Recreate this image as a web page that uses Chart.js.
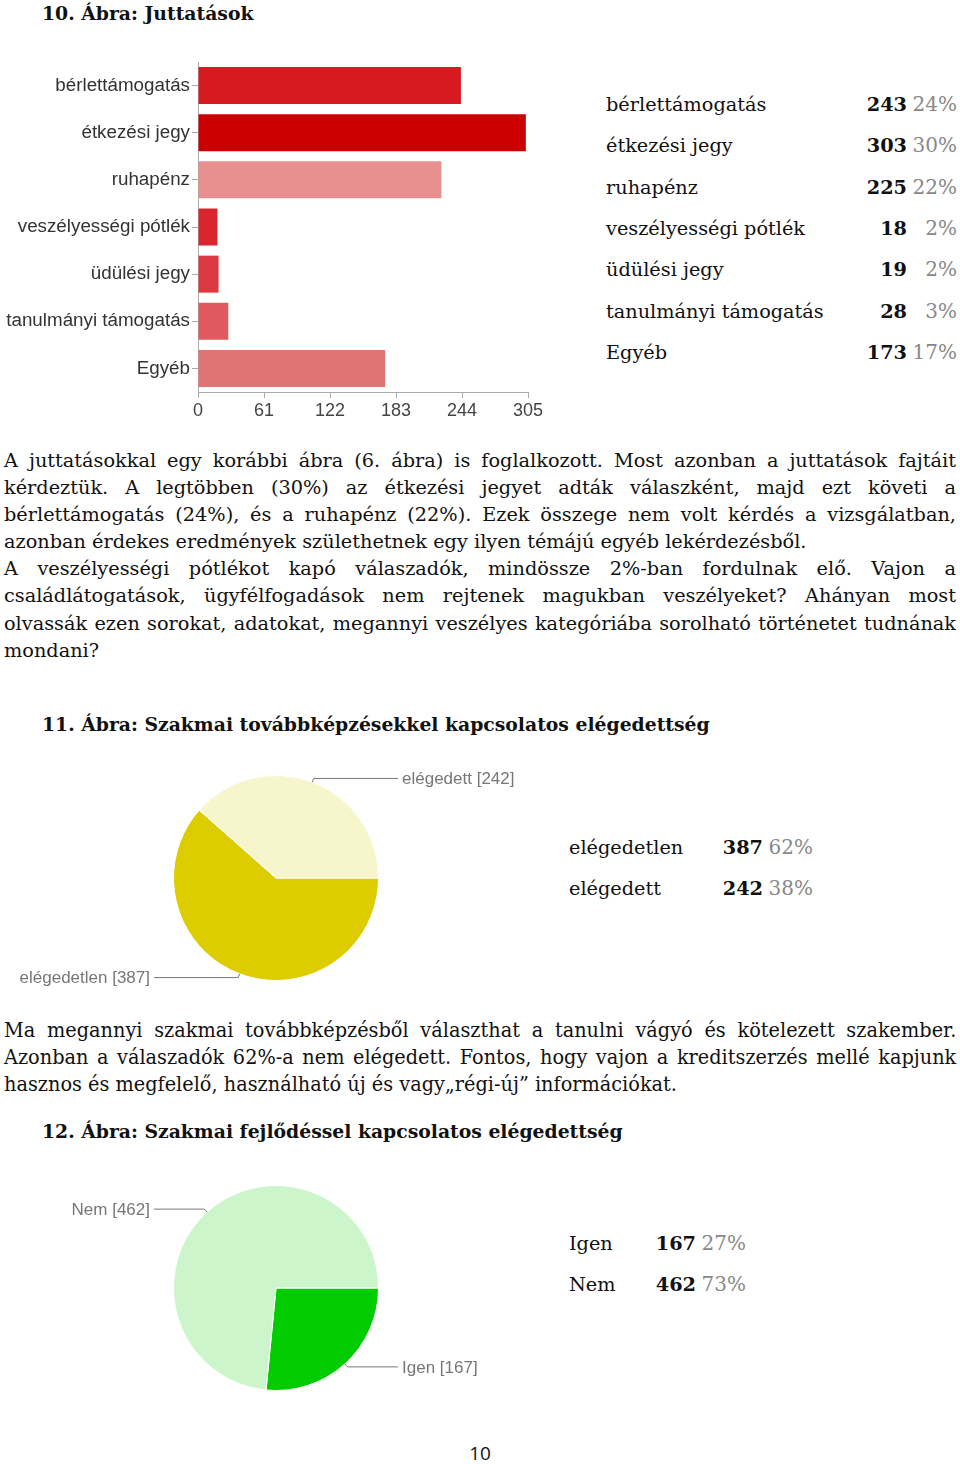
<!DOCTYPE html>
<html>
<head>
    <meta charset="utf-8">
    <title>Juttatások</title>
    <style>
        body {
            margin: 0;
            background: #fff;
            font-family: "DejaVu Serif", serif;
            color: #111;
        }
        .page {
            position: relative;
            width: 960px;
            height: 1464px;
            overflow: hidden;
        }
        .abs { position: absolute; }
        .heading {
            font-weight: bold;
            font-size: 18.8px;
            white-space: nowrap;
        }
        .para {
            left: 4px;
            width: 952px;
            font-size: 19.3px;
            line-height: 27.1px;
            text-align: justify;
        }
        .para div { white-space: nowrap; }
        .para .jl { text-align-last: justify; }
        .condensed {
            width: 992px;
            font-size: 20.1px;
            transform: scaleX(0.96);
            transform-origin: 0 0;
        }
        .legend div { position: absolute; white-space: nowrap; font-size: 19.3px; }
        .legend .num { font-weight: bold; text-align: right; }
        .legend .pct { color: #888; text-align: right; font-size: 20px; }
        .pagenum {
            left: 0; width: 960px; top: 1440px;
            text-align: center;
            font-family: "Open Sans", sans-serif;
            font-size: 19px;
        }
    </style>
    <script src="https://cdn.jsdelivr.net/npm/chart.js"></script>
</head>
<body>
<div class="page">
    <div class="abs heading" style="left:42px; top:2px;">10. Ábra: Juttatások</div>
    <div class="abs" style="left:0; top:55px; width:560px; height:375px;">
        <canvas id="bars" width="560" height="375"></canvas>
    </div>
    <div class="abs legend" id="legend1"></div>

    <div class="abs para" style="top:447px;">
        <div class="jl">A juttatásokkal egy korábbi ábra (6. ábra) is foglalkozott. Most azonban a juttatások fajtáit</div>
        <div class="jl">kérdeztük. A legtöbben (30%) az étkezési jegyet adták válaszként, majd ezt követi a</div>
        <div class="jl">bérlettámogatás (24%), és a ruhapénz (22%). Ezek összege nem volt kérdés a vizsgálatban,</div>
        <div>azonban érdekes eredmények születhetnek egy ilyen témájú egyéb lekérdezésből.</div>
        <div class="jl">A veszélyességi pótlékot kapó válaszadók, mindössze 2%-ban fordulnak elő. Vajon a</div>
        <div class="jl">családlátogatások, ügyfélfogadások nem rejtenek magukban veszélyeket? Ahányan most</div>
        <div class="jl">olvassák ezen sorokat, adatokat, megannyi veszélyes kategóriába sorolható történetet tudnának</div>
        <div>mondani?</div>
    </div>

    <div class="abs heading" style="left:42px; top:713px;">11. Ábra: Szakmai továbbképzésekkel kapcsolatos elégedettség</div>
    <div class="abs" style="left:0; top:760px; width:540px; height:240px;">
        <canvas id="pie1" width="540" height="240"></canvas>
    </div>
    <div class="abs legend" id="legend2"></div>

    <div class="abs para" style="top:1017px; width:960px;">
        <div class="condensed" style="white-space: normal;">
            Ma megannyi szakmai továbbképzésből választhat a tanulni vágyó és kötelezett szakember. Azonban a válaszadók 62%-a nem elégedett. Fontos, hogy vajon a kreditszerzés mellé kapjunk hasznos és megfelelő, használható új és vagy„régi-új” információkat.
        </div>
    </div>

    <div class="abs heading" style="left:42px; top:1120px;">12. Ábra: Szakmai fejlődéssel kapcsolatos elégedettség</div>
    <div class="abs" style="left:0; top:1170px; width:540px; height:240px;">
        <canvas id="pie2" width="540" height="240"></canvas>
    </div>
    <div class="abs legend" id="legend3"></div>

    <div class="abs pagenum">10</div>
</div>

<script>
    // 10. ábra
    const barLabels = ['bérlettámogatás', 'étkezési jegy', 'ruhapénz', 'veszélyességi pótlék', 'üdülési jegy', 'tanulmányi támogatás', 'Egyéb'];
    const barValues = [243, 303, 225, 18, 19, 28, 173];
    const barPercents = [24, 30, 22, 2, 2, 3, 17];
    const barColors = ['#d71a1f', '#cc0000', '#e88f8f', '#d9262e', '#dc3a40', '#df5a5e', '#e07373'];
    const xTicks = [0, 61, 122, 183, 244, 305];

    // 11. ábra
    const pie1Labels = ['elégedetlen', 'elégedett'];
    const pie1Values = [387, 242];
    const pie1Percents = [62, 38];
    const pie1Colors = ['#dccc00', '#f7f5cc'];

    // 12. ábra
    const pie2Labels = ['Igen', 'Nem'];
    const pie2Values = [167, 462];
    const pie2Percents = [27, 73];
    const pie2Colors = ['#00cc00', '#ccf5cc'];

    const sans = '"Liberation Sans", Arial, sans-serif';

    function makeLegend(id, labels, values, percents, labelX, numRight, pctRight, top, step) {
        const box = document.getElementById(id);
        labels.forEach(function (lab, i) {
            const y = top + i * step;
            box.innerHTML +=
                '<div style="left:' + labelX + 'px; top:' + y + 'px;">' + lab + '</div>' +
                '<div class="num" style="right:' + (960 - numRight) + 'px; top:' + y + 'px;">' + values[i] + '</div>' +
                '<div class="pct" style="right:' + (960 - pctRight) + 'px; top:' + (y - 1) + 'px;">' + percents[i] + '%</div>';
        });
        box.style.left = '0px';
        box.style.top = '0px';
        box.style.width = '960px';
    }

    makeLegend('legend1', barLabels, barValues, barPercents, 606, 907, 957, 93, 41.3);
    makeLegend('legend2', pie1Labels, pie1Values, pie1Percents, 569, 763, 813, 836, 41);
    makeLegend('legend3', pie2Labels, pie2Values, pie2Percents, 569, 696, 746, 1232, 41);

    new Chart(document.getElementById('bars'), {
        type: 'bar',
        data: {
            labels: barLabels,
            datasets: [{
                data: barValues,
                backgroundColor: barColors,
                barPercentage: 0.785,
                categoryPercentage: 1
            }]
        },
        options: {
            indexAxis: 'y',
            responsive: false,
            animation: false,
            layout: { padding: { top: 7, right: 32, bottom: 0, left: 0 } },
            plugins: { legend: { display: false }, tooltip: { enabled: false } },
            scales: {
                x: {
                    min: 0,
                    max: 305,
                    afterBuildTicks: function (scale) {
                        scale.ticks = xTicks.map(function (v) { return { value: v }; });
                    },
                    afterFit: function (scale) { scale.height = 38; },
                    ticks: { color: '#444', font: { family: sans, size: 18 }, padding: 2, maxRotation: 0 },
                    grid: { drawOnChartArea: false, tickLength: 6, color: '#aaa' },
                    border: { color: '#aaa' }
                },
                y: {
                    afterFit: function (scale) {
                        scale.width = 198;
                        scale.paddingTop = 0;
                        scale.paddingBottom = 0;
                    },
                    ticks: { color: '#333', font: { family: sans, size: 18.8 }, padding: 2 },
                    grid: { drawOnChartArea: false, offset: false, tickLength: 6, color: '#aaa' },
                    border: { color: '#aaa' }
                }
            }
        }
    });

    // leader lines like the original survey export
    const calloutPlugin = {
        id: 'callout',
        afterDatasetsDraw: function (chart) {
            const ctx = chart.ctx;
            const meta = chart.getDatasetMeta(0);
            const labels = chart.data.labels;
            const values = chart.data.datasets[0].data;
            ctx.save();
            ctx.font = '17px ' + sans;
            ctx.textBaseline = 'middle';
            meta.data.forEach(function (arc, i) {
                const p = arc.getProps(['x', 'y', 'startAngle', 'endAngle', 'outerRadius'], true);
                const mid = (p.startAngle + p.endAngle) / 2;
                const ax = p.x + Math.cos(mid) * p.outerRadius;
                const ay = p.y + Math.sin(mid) * p.outerRadius;
                const ex = p.x + Math.cos(mid) * (p.outerRadius + 4);
                const ey = p.y + Math.sin(mid) * (p.outerRadius + 4);
                const side = Math.cos(mid) >= 0 ? 1 : -1;
                const lx = p.x + side * 122;
                ctx.strokeStyle = '#777';
                ctx.lineWidth = 1;
                ctx.beginPath();
                ctx.moveTo(ax, ay);
                ctx.lineTo(ex, ey);
                ctx.lineTo(lx, ey);
                ctx.stroke();
                ctx.fillStyle = '#777';
                ctx.textAlign = side > 0 ? 'left' : 'right';
                ctx.fillText(labels[i] + ' [' + values[i] + ']', lx + side * 4, ey + 1);
            });
            ctx.restore();
        }
    };

    function makePie(id, labels, values, colors) {
        return new Chart(document.getElementById(id), {
            type: 'pie',
            data: {
                labels: labels,
                datasets: [{
                    data: values,
                    backgroundColor: colors,
                    borderColor: '#fff',
                    borderWidth: 1
                }]
            },
            options: {
                responsive: false,
                animation: false,
                rotation: 90,
                layout: { padding: { left: 173, right: 161, top: 15, bottom: 19 } },
                plugins: { legend: { display: false }, tooltip: { enabled: false } }
            },
            plugins: [calloutPlugin]
        });
    }

    makePie('pie1', pie1Labels, pie1Values, pie1Colors);
    makePie('pie2', pie2Labels, pie2Values, pie2Colors);
</script>
</body>
</html>
